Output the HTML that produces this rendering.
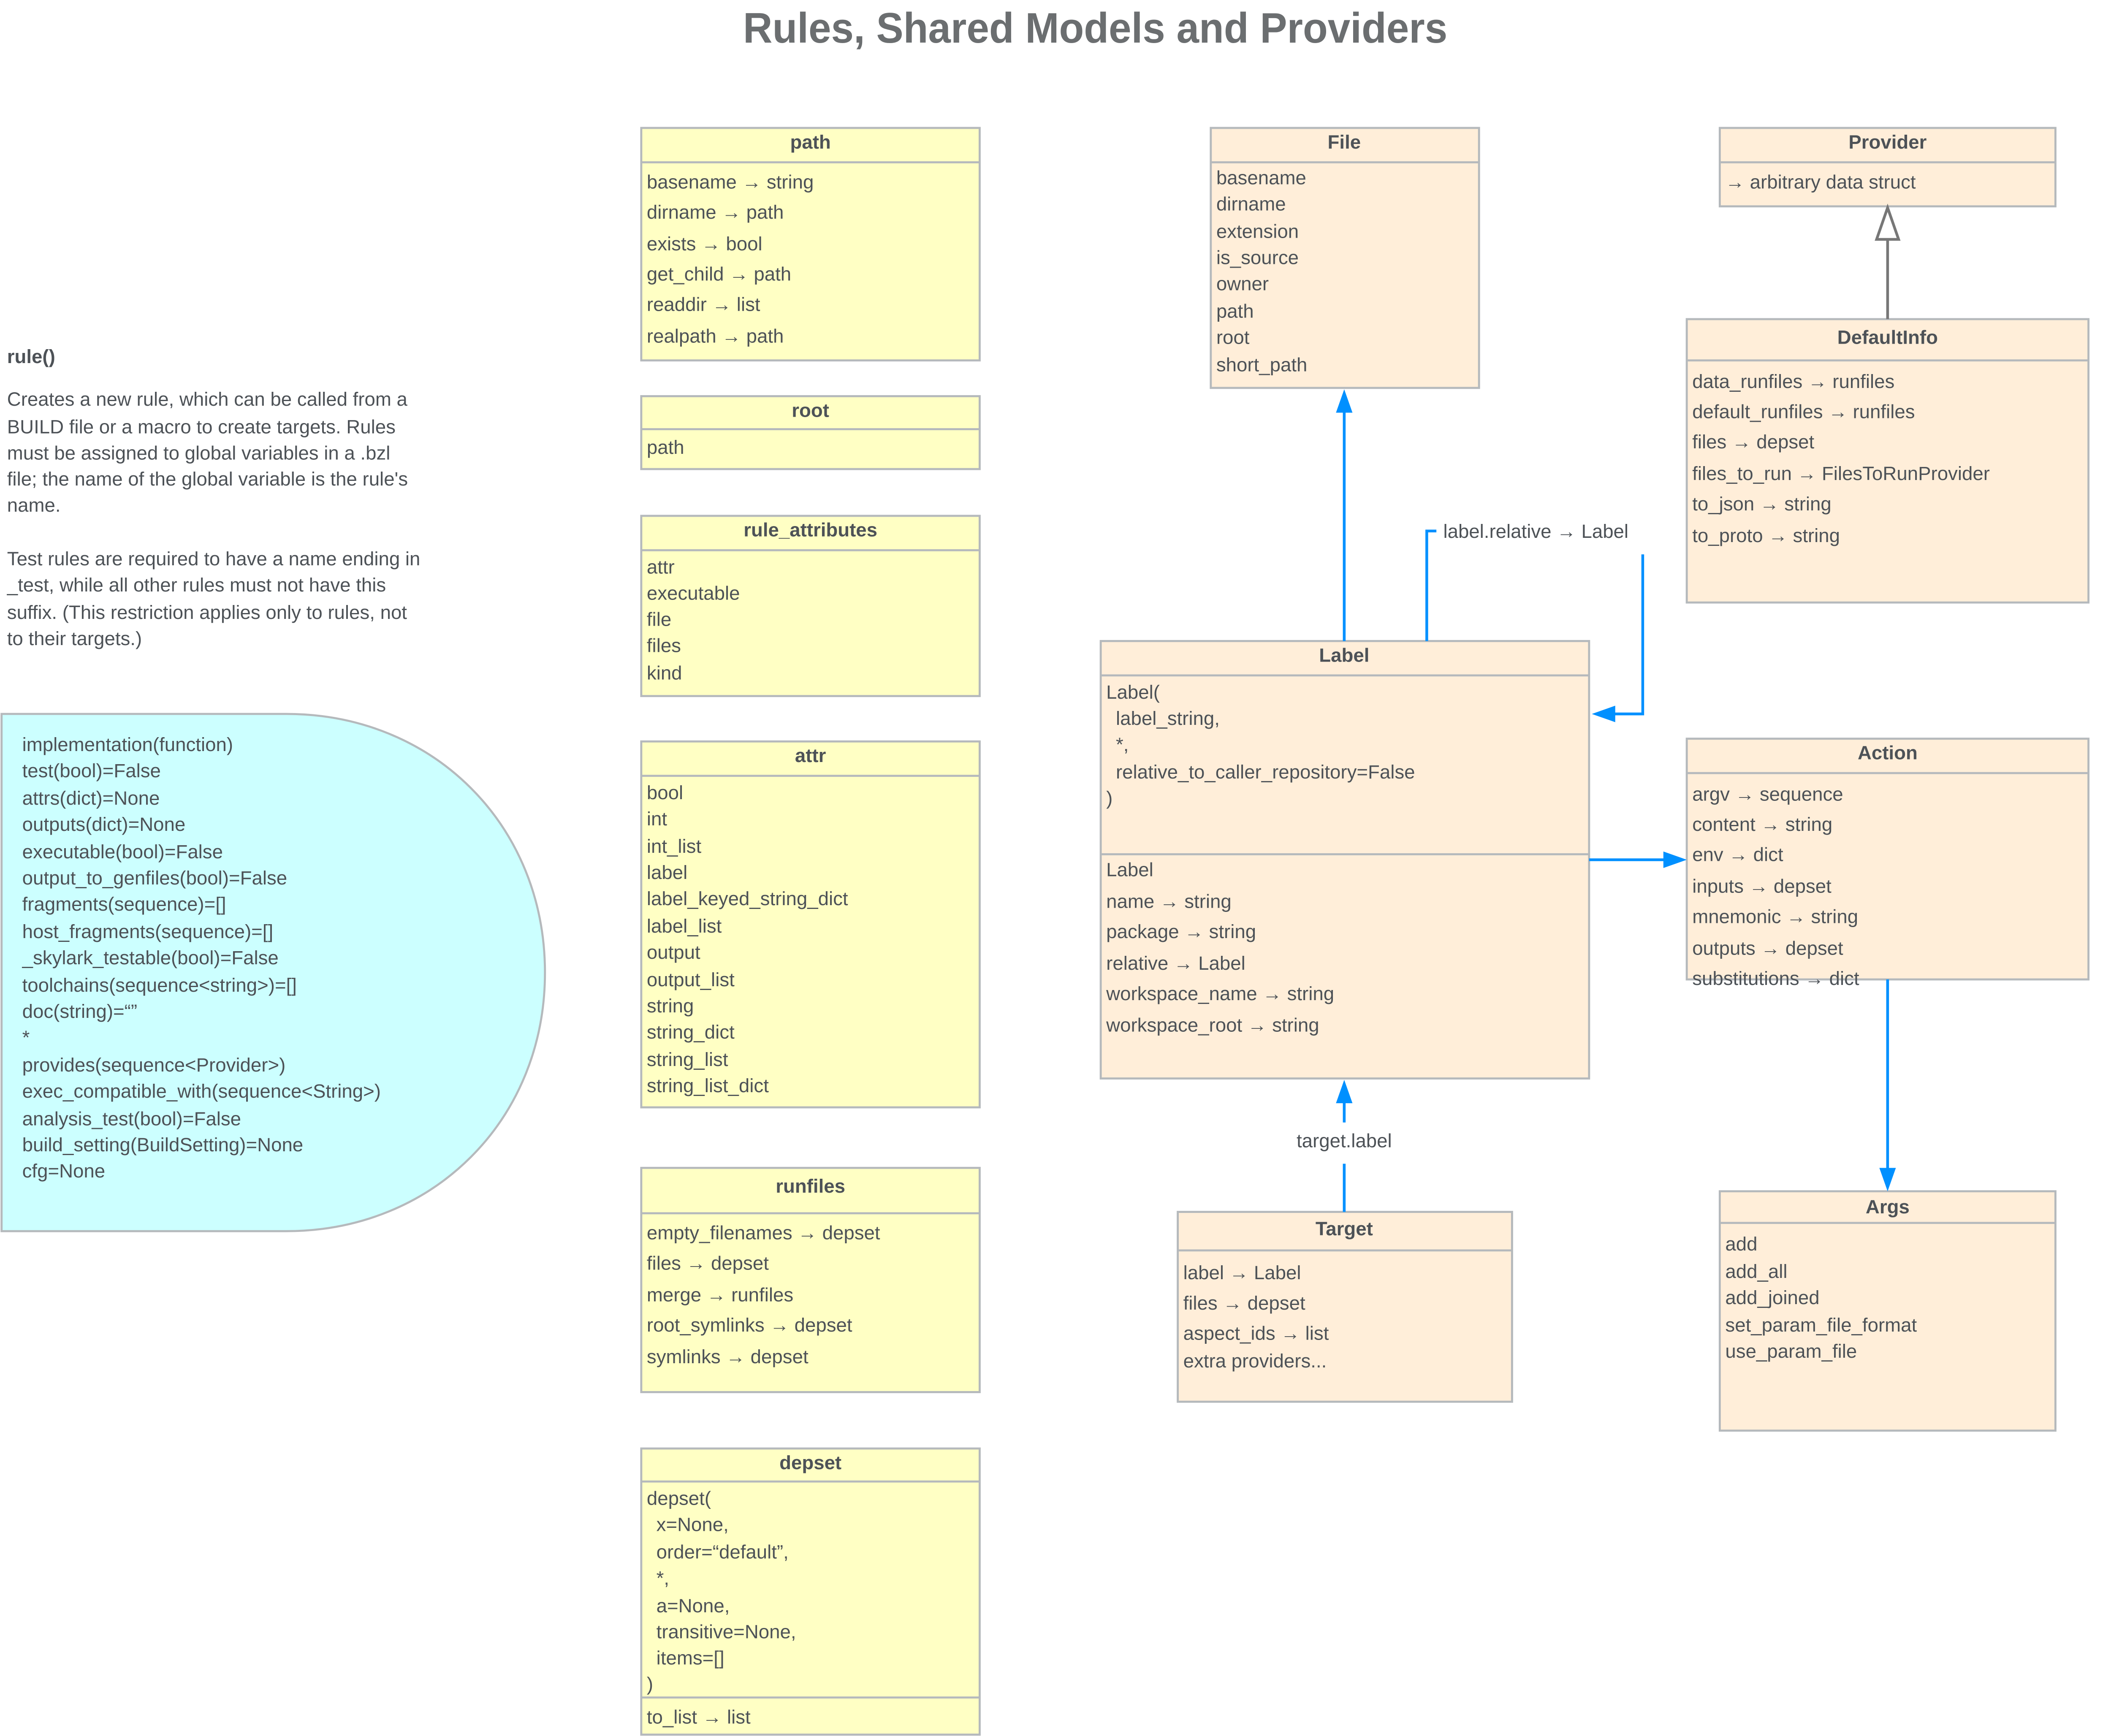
<!DOCTYPE html>
<html><head><meta charset="utf-8"><style>
html,body{margin:0;padding:0;background:#fff;}
svg{display:block;}
text{font-family:"Liberation Sans",sans-serif;fill:#4d5257;font-size:14px;}
.b{font-weight:bold;}
.box{stroke:#b5b9bc;stroke-width:1.5;}
.y{fill:#ffffc4;} .o{fill:#ffeed9;}
.ln{stroke:#b5b9bc;stroke-width:1.5;}
.bl{stroke:#0090ff;stroke-width:2;fill:none;}
</style></head><body>
<svg width="5110" height="4112" viewBox="0 0 1568 1262" xmlns="http://www.w3.org/2000/svg">
<text x="796" y="31" text-anchor="middle" class="b" style="font-size:31px;fill:#6b6e70" textLength="512" lengthAdjust="spacingAndGlyphs">Rules, Shared Models and Providers</text>

<text x="5" y="264" class="b">rule()</text>
<text x="5" y="295">Creates a new rule, which can be called from a</text>
<text x="5" y="315">BUILD file or a macro to create targets. Rules</text>
<text x="5" y="334">must be assigned to global variables in a .bzl</text>
<text x="5" y="353">file; the name of the global variable is the rule's</text>
<text x="5" y="372">name.</text>
<text x="5" y="411">Test rules are required to have a name ending in</text>
<text x="5" y="430">_test, while all other rules must not have this</text>
<text x="5" y="450">suffix. (This restriction applies only to rules, not</text>
<text x="5" y="469">to their targets.)</text>

<path d="M1,519 H208 C315,519 396,600 396,707 C396,814 315,895 208,895 H1 Z" fill="#ccffff" stroke="#b5b9bc" stroke-width="1.5"/>
<g>
<text x="16" y="546">implementation(function)</text>
<text x="16" y="565">test(bool)=False</text>
<text x="16" y="585">attrs(dict)=None</text>
<text x="16" y="604">outputs(dict)=None</text>
<text x="16" y="624">executable(bool)=False</text>
<text x="16" y="643">output_to_genfiles(bool)=False</text>
<text x="16" y="662">fragments(sequence)=[]</text>
<text x="16" y="682">host_fragments(sequence)=[]</text>
<text x="16" y="701">_skylark_testable(bool)=False</text>
<text x="16" y="721">toolchains(sequence&lt;string&gt;)=[]</text>
<text x="16" y="740">doc(string)=“”</text>
<text x="16" y="759">*</text>
<text x="16" y="779">provides(sequence&lt;Provider&gt;)</text>
<text x="16" y="798">exec_compatible_with(sequence&lt;String&gt;)</text>
<text x="16" y="818">analysis_test(bool)=False</text>
<text x="16" y="837">build_setting(BuildSetting)=None</text>
<text x="16" y="856">cfg=None</text>
</g>

<rect x="466" y="93" width="246" height="169" class="box y"/>
<line x1="466" y1="118" x2="712" y2="118" class="ln"/>
<text x="589" y="108" text-anchor="middle" class="b">path</text>
<text x="470" y="137">basename → string</text>
<text x="470" y="159">dirname → path</text>
<text x="470" y="182">exists → bool</text>
<text x="470" y="204">get_child → path</text>
<text x="470" y="226">readdir → list</text>
<text x="470" y="249">realpath → path</text>

<rect x="466" y="288" width="246" height="53" class="box y"/>
<line x1="466" y1="312" x2="712" y2="312" class="ln"/>
<text x="589" y="303" text-anchor="middle" class="b">root</text>
<text x="470" y="330">path</text>

<rect x="466" y="375" width="246" height="131" class="box y"/>
<line x1="466" y1="400" x2="712" y2="400" class="ln"/>
<text x="589" y="390" text-anchor="middle" class="b">rule_attributes</text>
<text x="470" y="417">attr</text>
<text x="470" y="436">executable</text>
<text x="470" y="455">file</text>
<text x="470" y="474">files</text>
<text x="470" y="494">kind</text>

<rect x="466" y="539" width="246" height="266" class="box y"/>
<line x1="466" y1="564" x2="712" y2="564" class="ln"/>
<text x="589" y="554" text-anchor="middle" class="b">attr</text>
<text x="470" y="581">bool</text>
<text x="470" y="600">int</text>
<text x="470" y="620">int_list</text>
<text x="470" y="639">label</text>
<text x="470" y="658">label_keyed_string_dict</text>
<text x="470" y="678">label_list</text>
<text x="470" y="697">output</text>
<text x="470" y="717">output_list</text>
<text x="470" y="736">string</text>
<text x="470" y="755">string_dict</text>
<text x="470" y="775">string_list</text>
<text x="470" y="794">string_list_dict</text>

<rect x="466" y="849" width="246" height="163" class="box y"/>
<line x1="466" y1="882" x2="712" y2="882" class="ln"/>
<text x="589" y="867" text-anchor="middle" class="b">runfiles</text>
<text x="470" y="901">empty_filenames → depset</text>
<text x="470" y="923">files → depset</text>
<text x="470" y="946">merge → runfiles</text>
<text x="470" y="968">root_symlinks → depset</text>
<text x="470" y="991">symlinks → depset</text>

<rect x="466" y="1053" width="246" height="208" class="box y"/>
<line x1="466" y1="1077" x2="712" y2="1077" class="ln"/>
<line x1="466" y1="1234" x2="712" y2="1234" class="ln"/>
<text x="589" y="1068" text-anchor="middle" class="b">depset</text>
<text x="470" y="1094">depset(</text>
<text x="477" y="1113">x=None,</text>
<text x="477" y="1133">order=“default”,</text>
<text x="477" y="1152">*,</text>
<text x="477" y="1172">a=None,</text>
<text x="477" y="1191">transitive=None,</text>
<text x="477" y="1210">items=[]</text>
<text x="470" y="1229">)</text>
<text x="470" y="1253">to_list → list</text>

<rect x="880" y="93" width="195" height="189" class="box o"/>
<line x1="880" y1="118" x2="1075" y2="118" class="ln"/>
<text x="977" y="108" text-anchor="middle" class="b">File</text>
<text x="884" y="134">basename</text>
<text x="884" y="153">dirname</text>
<text x="884" y="173">extension</text>
<text x="884" y="192">is_source</text>
<text x="884" y="211">owner</text>
<text x="884" y="231">path</text>
<text x="884" y="250">root</text>
<text x="884" y="270">short_path</text>

<rect x="1250" y="93" width="244" height="57" class="box o"/>
<line x1="1250" y1="118" x2="1494" y2="118" class="ln"/>
<text x="1372" y="108" text-anchor="middle" class="b">Provider</text>
<text x="1254" y="137">→ arbitrary data struct</text>

<rect x="1226" y="232" width="292" height="206" class="box o"/>
<line x1="1226" y1="262" x2="1518" y2="262" class="ln"/>
<text x="1372" y="250" text-anchor="middle" class="b">DefaultInfo</text>
<text x="1230" y="282">data_runfiles → runfiles</text>
<text x="1230" y="304">default_runfiles → runfiles</text>
<text x="1230" y="326">files → depset</text>
<text x="1230" y="349">files_to_run → FilesToRunProvider</text>
<text x="1230" y="371">to_json → string</text>
<text x="1230" y="394">to_proto → string</text>

<rect x="800" y="466" width="355" height="318" class="box o"/>
<line x1="800" y1="491" x2="1155" y2="491" class="ln"/>
<line x1="800" y1="621" x2="1155" y2="621" class="ln"/>
<text x="977" y="481" text-anchor="middle" class="b">Label</text>
<text x="804" y="508">Label(</text>
<text x="811" y="527">label_string,</text>
<text x="811" y="546">*,</text>
<text x="811" y="566">relative_to_caller_repository=False</text>
<text x="804" y="585">)</text>
<text x="804" y="637">Label</text>
<text x="804" y="660">name → string</text>
<text x="804" y="682">package → string</text>
<text x="804" y="705">relative → Label</text>
<text x="804" y="727">workspace_name → string</text>
<text x="804" y="750">workspace_root → string</text>

<rect x="1226" y="537" width="292" height="175" class="box o"/>
<line x1="1226" y1="562" x2="1518" y2="562" class="ln"/>
<text x="1372" y="552" text-anchor="middle" class="b">Action</text>
<text x="1230" y="582">argv → sequence</text>
<text x="1230" y="604">content → string</text>
<text x="1230" y="626">env → dict</text>
<text x="1230" y="649">inputs → depset</text>
<text x="1230" y="671">mnemonic → string</text>
<text x="1230" y="694">outputs → depset</text>
<text x="1230" y="716">substitutions → dict</text>

<rect x="1250" y="866" width="244" height="174" class="box o"/>
<line x1="1250" y1="889" x2="1494" y2="889" class="ln"/>
<text x="1372" y="882" text-anchor="middle" class="b">Args</text>
<text x="1254" y="909">add</text>
<text x="1254" y="929">add_all</text>
<text x="1254" y="948">add_joined</text>
<text x="1254" y="968">set_param_file_format</text>
<text x="1254" y="987">use_param_file</text>

<rect x="856" y="881" width="243" height="138" class="box o"/>
<line x1="856" y1="909" x2="1099" y2="909" class="ln"/>
<text x="977" y="898" text-anchor="middle" class="b">Target</text>
<text x="860" y="930">label → Label</text>
<text x="860" y="952">files → depset</text>
<text x="860" y="974">aspect_ids → list</text>
<text x="860" y="994">extra providers...</text>

<line x1="977" y1="466" x2="977" y2="298" class="bl"/>
<polygon points="977,283 971,300 983,300" fill="#0090ff"/>

<polyline points="1037,466 1037,386 1044,386" class="bl"/>
<text x="1049" y="391">label.relative → Label</text>
<polyline points="1194,403 1194,519 1170,519" class="bl"/>
<polygon points="1157,519 1174,513 1174,525" fill="#0090ff"/>

<line x1="1155" y1="625" x2="1212" y2="625" class="bl"/>
<polygon points="1226,625 1209,619 1209,631" fill="#0090ff"/>

<line x1="1372" y1="712" x2="1372" y2="852" class="bl"/>
<polygon points="1372,866 1366,849 1378,849" fill="#0090ff"/>

<line x1="977" y1="881" x2="977" y2="846" class="bl"/>
<text x="977" y="834" text-anchor="middle">target.label</text>
<line x1="977" y1="816" x2="977" y2="798" class="bl"/>
<polygon points="977,785 971,802 983,802" fill="#0090ff"/>

<line x1="1372" y1="232" x2="1372" y2="174" stroke="#777" stroke-width="2"/>
<polygon points="1372,151 1364,174 1380,174" fill="#fff" stroke="#777" stroke-width="2"/>
</svg>
</body></html>
